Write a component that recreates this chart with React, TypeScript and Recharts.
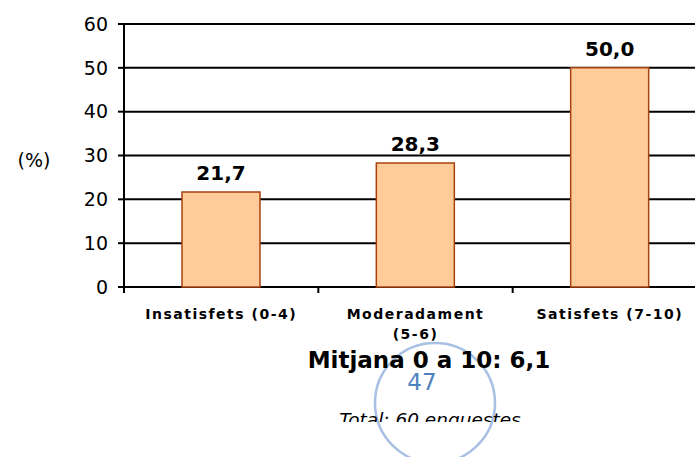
import { BarChart, Bar, XAxis, YAxis, CartesianGrid, LabelList } from "recharts"

const categories = ["Insatisfets (0-4)", "Moderadament (5-6)", "Satisfets (7-10)"]
const percents = [21.7, 28.3, 50.0]
const yTicks = [0, 10, 20, 30, 40, 50, 60]
const boundaryTicks = [0, 1, 2, 3]

const data = categories.map((name, i) => ({ name, value: percents[i], pos: i + 0.5 }))

const FONT = "'DejaVu Sans', Verdana, sans-serif"

function CategoryTick(props: any) {
  const { x, y, payload } = props
  const text: string = payload.value
  let lines = [text]
  if (text.length > 17) {
    const cut = text.lastIndexOf(" ")
    lines = [text.slice(0, cut), text.slice(cut + 1)]
  }
  return (
    <text x={x} y={y} textAnchor="middle" fontFamily={FONT} fontSize={14} fontWeight="bold" letterSpacing={1.5} fill="#000">
      {lines.map((l, i) => (
        <tspan key={i} x={x} dy={i === 0 ? 23 : 20}>
          {l}
        </tspan>
      ))}
    </text>
  )
}

const NoLabel = () => <g />

export default function App() {
  return (
    <div style={{ position: "absolute", left: 0, top: 0, width: 695, height: 457, overflow: "hidden", background: "#fff" }}>
      <BarChart width={712} height={457} data={data} margin={{ top: 24, right: 5, bottom: 109, left: 0 }}>
        <CartesianGrid xAxisId="cat" vertical={false} stroke="#000" strokeWidth={2} />
        <XAxis
          xAxisId="b"
          type="number"
          dataKey="pos"
          domain={[0, 3]}
          ticks={boundaryTicks}
          interval={0}
          tick={<NoLabel />}
          tickSize={6}
          axisLine={false}
          tickLine={{ stroke: "#000", strokeWidth: 2 }}
          height={1}
        />
        <XAxis
          xAxisId="cat"
          dataKey="name"
          interval={0}
          axisLine={false}
          tickLine={false}
          height={60}
          tick={<CategoryTick />}
        />
        <YAxis
          domain={[0, 60]}
          ticks={yTicks}
          width={124}
          tickSize={6}
          tickMargin={10}
          axisLine={{ stroke: "#000", strokeWidth: 2 }}
          tickLine={{ stroke: "#000", strokeWidth: 2 }}
          tick={{ fill: "#000", fontSize: 19, fontFamily: FONT }}
        />
        <Bar xAxisId="cat" dataKey="value" barSize={78} fill="#FFCC99" stroke="#A8420E" strokeWidth={1.5} isAnimationActive={false}>
          <LabelList
            dataKey="value"
            position="top"
            offset={12}
            formatter={(v: any) => Number(v).toFixed(1).replace(".", ",")}
            style={{ fill: "#000", fontSize: 20, fontWeight: "bold", fontFamily: FONT }}
          />
        </Bar>
      </BarChart>
      <svg width={695} height={457} style={{ position: "absolute", left: 0, top: 0, pointerEvents: "none" }}>
        <defs>
          <clipPath id="cut">
            <rect x={0} y={0} width={695} height={422} />
          </clipPath>
        </defs>
        <text x={34} y={167} textAnchor="middle" fontFamily={FONT} fontSize={19} fill="#000">
          (%)
        </text>
        <circle cx={435} cy={403} r={60} fill="none" stroke="#A7C0E3" strokeWidth={2.5} />
        <text x={429} y={368} textAnchor="middle" fontFamily={FONT} fontSize={23} fontWeight="bold" fill="#000">
          Mitjana 0 a 10: 6,1
        </text>
        <text x={422} y={390} textAnchor="middle" fontFamily={FONT} fontSize={23} fill="#4F81BD">
          47
        </text>
        <g clipPath="url(#cut)">
          <text x={430} y={426} textAnchor="middle" fontFamily={FONT} fontSize={18.5} fontStyle="italic" fill="#000">
            Total: 60 enquestes
          </text>
        </g>
      </svg>
    </div>
  )
}
